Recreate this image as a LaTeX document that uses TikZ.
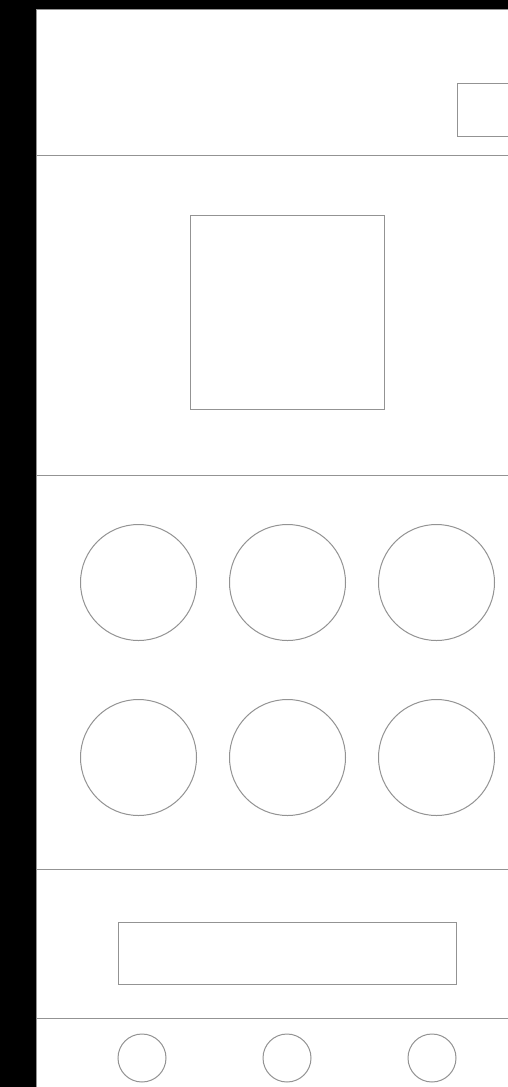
\documentclass[tikz,border=0pt]{standalone}
\usepackage{tikz}
\usetikzlibrary{positioning}

\begin{document}
\begin{tikzpicture}[x=1pt, y=-1pt,
    outline/.style={draw=gray!85, line width=1pt},
    box/.style={rectangle, outline, fill=white, inner sep=0pt},
    bigdot/.style={circle, outline, minimum size=116pt, inner sep=0pt},
    smalldot/.style={circle, outline, minimum size=48pt, inner sep=0pt},
    divider/.style={outline}
]
\useasboundingbox (0,0) rectangle (508,1087);
\clip (0,0) rectangle (508,1087);

% Frame
\fill[black] (0,0) rectangle (508,1087);
\fill[white] (36,9) rectangle (520,1100);
\draw[outline] (36,1100) -- (36,9) -- (520,9);

% Section dividers
\coordinate (l1) at (36,155.5);
\coordinate (l2) at (36,475.5);
\coordinate (l3) at (36,869);
\coordinate (l4) at (36,1018);
\foreach \l in {l1,l2,l3,l4}
  \draw[divider] (\l) -- ++(484,0);

% Header
\node[box, minimum width=70pt, minimum height=53pt] (badge) at (492.5,110) {};

% Picture frame
\node[box, minimum width=194pt, minimum height=194pt] (photo) at (287.5,312) {};

% Grid of circles
\node[bigdot] (c11) at (138.5,582.5) {};
\node[bigdot] (c12) at (287.5,582.5) {};
\node[bigdot] (c13) at (436.5,582.5) {};
\node[bigdot] (c21) at (138.5,757.5) {};
\node[bigdot] (c22) at (287.5,757.5) {};
\node[bigdot] (c23) at (436.5,757.5) {};

% Bar
\node[box, minimum width=338pt, minimum height=62pt] (bar) at (287,953) {};

% Footer dots
\node[smalldot] (f1) at (142,1058) {};
\node[smalldot] (f2) at (287,1058) {};
\node[smalldot] (f3) at (432,1058) {};

\end{tikzpicture}
\end{document}
